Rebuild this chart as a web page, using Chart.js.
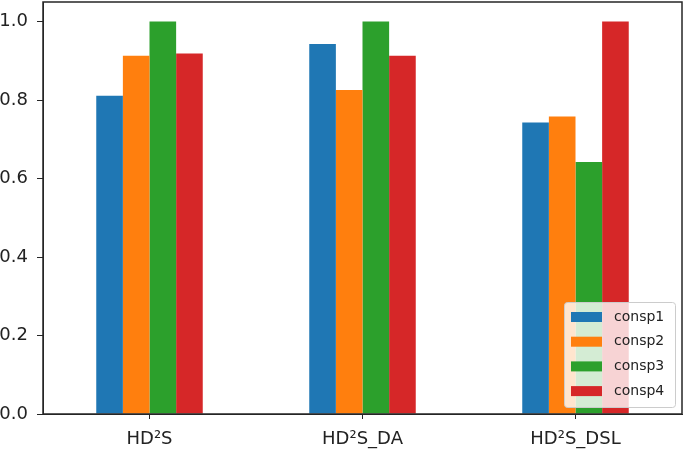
<!DOCTYPE html>
<html>
<head>
<meta charset="utf-8">
<script src="https://cdn.jsdelivr.net/npm/chart.js@4.4.0/dist/chart.umd.min.js"></script>
<style>
  html, body { margin: 0; padding: 0; background: #fff; }
  #wrap { width: 685px; height: 453px; }
</style>
</head>
<body>
<div id="wrap"><canvas id="grafico" width="685" height="453"></canvas></div>
<script>
// dados
let categorias = ["HD²S", "HD²S_DA", "HD²S_DSL"];
let consp1 = [0.811, 0.943, 0.743];
let consp2 = [0.913, 0.826, 0.758];
let consp3 = [1.0, 1.0, 0.642];
let consp4 = [0.919, 0.913, 1.0];
let yTicks = [0.0, 0.2, 0.4, 0.6, 0.8, 1.0];

let cores = ["#1f77b4", "#ff7f0e", "#2ca02c", "#d62728"];

// moldura dos eixos + legenda no canto inferior direito
let molduraLegenda = {
  id: "molduraLegenda",
  afterDraw(chart) {
    let ctx = chart.ctx;
    let a = chart.chartArea;
    ctx.save();
    ctx.strokeStyle = "#262626";
    ctx.lineWidth = 1.5;
    ctx.strokeRect(a.left, a.top, a.right - a.left, a.bottom - a.top);

    // legenda
    let w = 111, h = 105;
    let x = a.right - 7 - w, y = a.bottom - 7 - h;
    ctx.beginPath();
    ctx.roundRect(x + 0.5, y + 0.5, w, h, 3);
    ctx.fillStyle = "rgba(255,255,255,0.8)";
    ctx.fill();
    ctx.strokeStyle = "#cccccc";
    ctx.lineWidth = 1;
    ctx.stroke();

    ctx.font = "14px 'DejaVu Sans'";
    ctx.textBaseline = "middle";
    ctx.textAlign = "left";
    chart.data.datasets.forEach((ds, i) => {
      let cy = y + 15 + i * 24.7;
      ctx.fillStyle = ds.backgroundColor;
      ctx.fillRect(x + 7, cy - 5, 31, 10);
      ctx.fillStyle = "#222";
      ctx.fillText(ds.label, x + 50, cy);
    });
    ctx.restore();
  }
};

let ctx = document.getElementById("grafico").getContext("2d");

new Chart(ctx, {
  type: "bar",
  data: {
    labels: categorias,
    datasets: [
      { label: "consp1", data: consp1, backgroundColor: cores[0] },
      { label: "consp2", data: consp2, backgroundColor: cores[1] },
      { label: "consp3", data: consp3, backgroundColor: cores[2] },
      { label: "consp4", data: consp4, backgroundColor: cores[3] }
    ]
  },
  options: {
    responsive: false,
    animation: false,
    layout: { padding: { top: 2, right: 3, left: 0, bottom: 0 } },
    datasets: {
      bar: { categoryPercentage: 0.5, barPercentage: 1.0, borderWidth: 0 }
    },
    scales: {
      x: {
        offset: true,
        grid: { drawOnChartArea: false, drawTicks: true, tickLength: 5, color: "#262626", offset: false },
        border: { display: true, color: "#262626" },
        ticks: { color: "#222", font: { family: "DejaVu Sans", size: 18 }, padding: 10, maxRotation: 0 },
        afterFit: function (scale) {
          scale.height = 39;
          scale.paddingLeft = 0;
          scale.paddingRight = 0;
        }
      },
      y: {
        min: 0,
        max: 1.05,
        grid: { drawOnChartArea: false, drawTicks: true, tickLength: 6, color: "#262626" },
        border: { display: true, color: "#262626" },
        ticks: {
          color: "#222",
          font: { family: "DejaVu Sans", size: 18 },
          padding: 9,
          callback: function (v) { return v.toFixed(1); }
        },
        afterBuildTicks: function (scale) {
          scale.ticks = yTicks.map(v => ({ value: v }));
        },
        afterFit: function (scale) {
          scale.width = 43;
          scale.paddingTop = 0;
          scale.paddingBottom = 0;
        }
      }
    },
    plugins: {
      legend: { display: false },
      tooltip: { enabled: false }
    }
  },
  plugins: [molduraLegenda]
});
</script>
</body>
</html>
